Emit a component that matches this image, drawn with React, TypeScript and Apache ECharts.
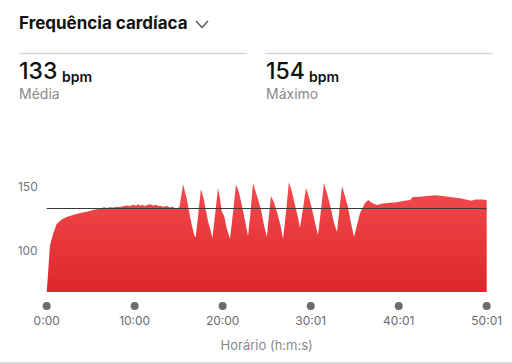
import React, { useEffect, useRef } from "react";
import * as echarts from "echarts";

// Time in seconds since start
const timesSec = [
  0, 9, 22, 43, 68, 102, 136, 179, 227, 273, 316, 340, 364, 390, 411, 432, 455, 479, 500, 520, 548, 568, 589, 610, 620, 636,
  655, 670, 690, 705, 725, 745, 760, 773, 793, 820, 841, 861, 875, 889, 905,
  930, 955, 971, 989, 1008, 1016,
  1035, 1052, 1070, 1085, 1101, 1119, 1130,
  1150, 1168, 1182, 1193, 1211, 1227, 1250,
  1271, 1291, 1311, 1332, 1352, 1373,
  1390, 1407, 1434, 1462, 1482, 1502,
  1516, 1530, 1550, 1577, 1598, 1612,
  1632, 1652, 1673, 1693, 1714, 1727,
  1748, 1768, 1789, 1809, 1830, 1850,
  1871, 1891, 1912, 1939, 1959, 1980,
  1997, 2014, 2034, 2055, 2075, 2096,
  2116, 2137, 2171, 2192, 2216, 2251, 2294, 2341, 2387, 2430, 2478, 2498, 2546, 2592, 2648,
  2703, 2751, 2819, 2873, 2898, 2921, 2975, 3001,
];

// Heart rate (bpm)
const heartRate = [
  68, 82, 104, 113, 121, 124.5, 126.5, 128, 129.5, 130.5, 132, 132.5, 133, 134, 133.5, 134, 133.8, 134.5, 134.2, 134.8, 135.5, 135, 136, 135.2, 136.5, 135.5,
  135.8, 135, 136, 136.5, 135.5, 136, 135, 135.2, 134.5, 135, 133.8, 134.5, 133, 133.5, 134,
  152.1, 141, 131, 120.5, 111.6, 110.5,
  130, 148.5, 141, 132, 123, 115.5, 110,
  130, 149, 141, 131, 127, 118, 109.5,
  130, 152, 146, 135, 124, 111.7,
  130, 152.9, 143, 132, 120, 110.9,
  128, 142.8, 138, 128, 118, 109.3,
  130, 153.7, 146, 136, 126, 117.9,
  133, 149, 142, 133, 122, 112.4,
  132, 152.9, 145, 133, 122, 114.8,
  133, 150.5, 143, 134, 122, 110.9,
  120, 129.5, 137.3, 139.7, 137.6, 135.8, 137, 137.6, 138, 139, 139.8, 142, 142.2, 142.8, 143.5,
  142.8, 142, 141, 139.7, 139.1, 140.2, 140.2, 139.5,
];

const averageBpm = 133;
const maxBpm = 154;
const xTickSecs = [0, 600, 1200, 1801, 2401, 3001];
const xTickLabels = ["0:00", "10:00", "20:00", "30:01", "40:01", "50:01"];
const yTickValues = [100, 150];

const FONT = "Inter, 'Noto Sans', sans-serif";

export default function App() {
  const ref = useRef<HTMLDivElement>(null);
  useEffect(() => {
    if (!ref.current) return;
    const chart = echarts.init(ref.current, undefined, { renderer: "svg" });
    const data = timesSec.map((t, i) => [t, heartRate[i]]);
    chart.setOption({
      animation: false,
      backgroundColor: "#ffffff",
      grid: { left: 46.7, right: 25.3, top: 174, bottom: 72 },
      xAxis: {
        type: "value",
        min: 0,
        max: 3001,
        axisLine: { show: false },
        axisTick: { show: false },
        splitLine: { show: false },
        name: "Horário (h:m:s)",
        nameLocation: "middle",
        nameGap: 46,
        nameTextStyle: { color: "#8a8a8a", fontSize: 13, fontFamily: FONT },
        axisLabel: {
          customValues: xTickSecs,
          margin: 10,
          formatter: (v: number) => {
            const idx = xTickSecs.indexOf(Math.round(v));
            return `{dot| }\n{t|${idx >= 0 ? xTickLabels[idx] : ""}}`;
          },
          rich: {
            dot: { width: 8, height: 8, lineHeight: 8, borderRadius: 4, backgroundColor: "#6b6b6b" },
            t: { fontSize: 12, lineHeight: 16, padding: [4, 0, 0, 0], color: "#6b6b6b", fontFamily: FONT },
          },
        },
      },
      yAxis: {
        type: "value",
        min: 68,
        max: 160,
        axisLine: { show: false },
        axisTick: { show: false },
        splitLine: { show: false },
        axisLabel: {
          customValues: yTickValues,
          color: "#777777",
          fontSize: 12,
          margin: 9,
          fontFamily: FONT,
        },
      },
      series: [
        {
          type: "line",
          data,
          symbol: "none",
          lineStyle: { width: 0 },
          areaStyle: {
            origin: "start",
            opacity: 1,
            color: new echarts.graphic.LinearGradient(0, 0, 0, 1, [
              { offset: 0, color: "rgb(243,76,78)" },
              { offset: 1, color: "rgb(222,38,44)" },
            ]),
          },
          markLine: {
            silent: true,
            symbol: "none",
            label: { show: false },
            lineStyle: { color: "#3a3a3a", width: 1, type: "solid" },
            data: [{ yAxis: averageBpm }],
          },
        },
      ],
      graphic: [
        {
          type: "text",
          left: 19,
          top: 14,
          style: { text: "Frequência cardíaca", fontSize: 17, fontWeight: 700, fill: "#111", fontFamily: FONT },
        },
        {
          type: "polyline",
          shape: { points: [[196, 21], [202, 27.5], [208, 21]] },
          style: { stroke: "#555", lineWidth: 1.4, fill: null },
        },
        { type: "line", shape: { x1: 19, y1: 53.5, x2: 247, y2: 53.5 }, style: { stroke: "#d6d6d6", lineWidth: 1.5 } },
        { type: "line", shape: { x1: 265, y1: 53.5, x2: 493, y2: 53.5 }, style: { stroke: "#d6d6d6", lineWidth: 1.5 } },
        {
          type: "text",
          x: 19,
          y: 82,
          style: { text: String(averageBpm), fontSize: 23, fontWeight: 500, fill: "#111", fontFamily: FONT, verticalAlign: "bottom" },
        },
        {
          type: "text",
          x: 62,
          y: 83,
          style: { text: "bpm", fontSize: 14, fontWeight: 600, fill: "#111", fontFamily: FONT, verticalAlign: "bottom" },
        },
        {
          type: "text",
          x: 19,
          y: 93,
          style: { text: "Média", fontSize: 14, fill: "#8a8a8a", fontFamily: FONT, verticalAlign: "middle" },
        },
        {
          type: "text",
          x: 266,
          y: 82,
          style: { text: String(maxBpm), fontSize: 23, fontWeight: 500, fill: "#111", fontFamily: FONT, verticalAlign: "bottom" },
        },
        {
          type: "text",
          x: 309,
          y: 83,
          style: { text: "bpm", fontSize: 14, fontWeight: 600, fill: "#111", fontFamily: FONT, verticalAlign: "bottom" },
        },
        {
          type: "text",
          x: 266,
          y: 93,
          style: { text: "Máximo", fontSize: 14, fill: "#8a8a8a", fontFamily: FONT, verticalAlign: "middle" },
        },
        { type: "line", shape: { x1: 0, y1: 363, x2: 512, y2: 363 }, style: { stroke: "#cfcfcf", lineWidth: 1.5 } },
      ],
    });
    return () => chart.dispose();
  }, []);
  return <div ref={ref} style={{ position: "fixed", left: 0, top: 0, width: 512, height: 364 }} />;
}
